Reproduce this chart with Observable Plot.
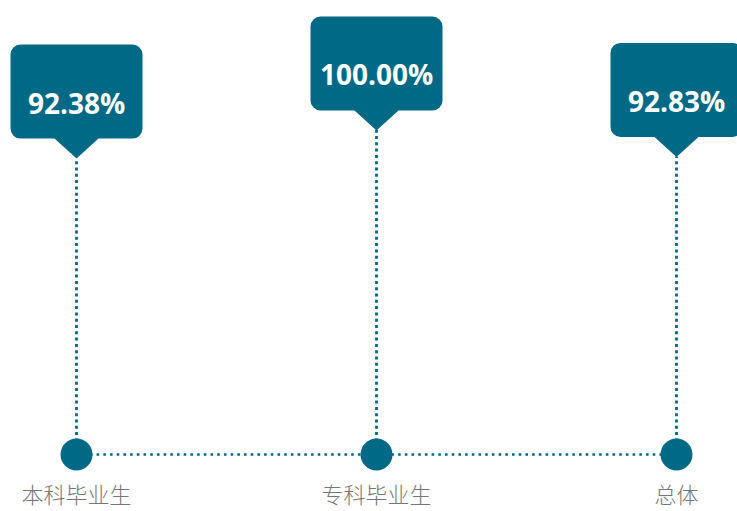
<!DOCTYPE html>
<html>
<head>
<meta charset="utf-8">
<script src="https://cdn.jsdelivr.net/npm/d3@7"></script>
<script src="https://cdn.jsdelivr.net/npm/@observablehq/plot@0.6"></script>
<style>
  html, body { margin: 0; padding: 0; background: #fff; }
  #chart svg { display: block; }
</style>
</head>
<body>
<div id="chart"></div>
<script>
const categories = ["本科毕业生", "专科毕业生", "总体"];
const rates = [92.38, 100.00, 92.83];
const valueLabels = ["92.38%", "100.00%", "92.83%"];

const data = categories.map((c, i) => ({category: c, rate: rates[i], label: valueLabels[i]}));
const yDomain = [12, 100];
const baseline = yDomain[0];
const teal = "#006986";

// Callout symbol: tip at origin, rounded box above
const callout = {
  draw(ctx) {
    const w = 66, r = 10, top = -114, bottom = -20, pw = 22;
    ctx.moveTo(0, 0);
    ctx.lineTo(-pw, bottom);
    ctx.lineTo(-w + r, bottom);
    ctx.arcTo(-w, bottom, -w, bottom - r, r);
    ctx.lineTo(-w, top + r);
    ctx.arcTo(-w, top, -w + r, top, r);
    ctx.lineTo(w - r, top);
    ctx.arcTo(w, top, w, top + r, r);
    ctx.lineTo(w, bottom - r);
    ctx.arcTo(w, bottom, w - r, bottom, r);
    ctx.lineTo(pw, bottom);
    ctx.closePath();
  }
};

const chart = Plot.plot({
  width: 737,
  height: 511,
  marginTop: 130,
  marginBottom: 57,
  marginLeft: 75,
  marginRight: 61,
  x: {type: "point", domain: categories, padding: 0, label: null},
  y: {domain: yDomain, axis: null},
  style: {background: "#fff", overflow: "visible"},
  marks: [
    Plot.axisX({
      tickSize: 0, tickPadding: 33, fontSize: 22, fill: "#767676", label: null,
      fontFamily: "'Noto Sans CJK SC', sans-serif", fontWeight: 300
    }),
    Plot.line(data, {x: "category", y: () => baseline, stroke: teal, strokeWidth: 2.6, strokeDasharray: "2.6,4.1", strokeLinecap: "butt"}),
    Plot.ruleX(data, {x: "category", y1: baseline, y2: "rate", stroke: teal, strokeWidth: 2.8, strokeDasharray: "3,3.3", strokeLinecap: "butt"}),
    Plot.dot(data, {x: "category", y: () => baseline, r: 16, fill: teal}),
    Plot.dot(data, {x: "category", y: "rate", symbol: callout, fill: teal, r: 10}),
    Plot.text(data, {
      x: "category", y: "rate", text: "label", dy: -54, fill: "#fff",
      fontSize: 28, fontWeight: "bold", fontFamily: "'Open Sans', sans-serif",
      lineAnchor: "middle"
    })
  ]
});
document.getElementById("chart").appendChild(chart);
</script>
</body>
</html>
